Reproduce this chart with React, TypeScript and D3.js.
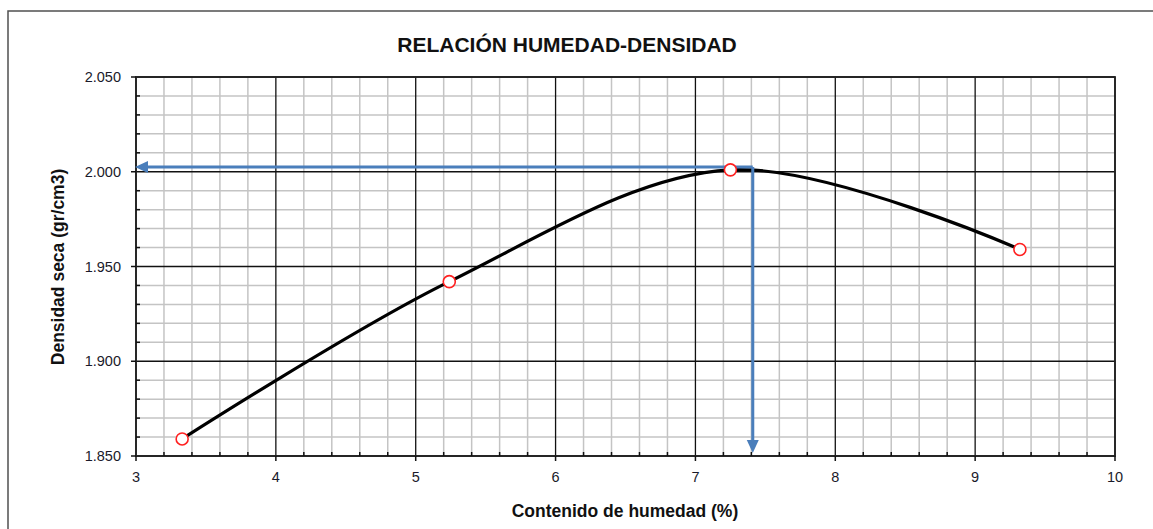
import React from "react";
import * as d3 from "d3";

const moisture = [3.33, 5.24, 7.25, 9.32];
const density = [1.859, 1.942, 2.001, 1.959];
const optimumMoisture = 7.41;
const maxDensity = 2.0025;
const xTicks = [3, 4, 5, 6, 7, 8, 9, 10];
const yTicks = [1.85, 1.9, 1.95, 2.0, 2.05];
const yTickLabels = ["1.850", "1.900", "1.950", "2.000", "2.050"];
const title = "RELACIÓN HUMEDAD-DENSIDAD";
const xLabel = "Contenido de humedad (%)";
const yLabel = "Densidad seca (gr/cm3)";

const W = 1153;
const H = 529;
const L = 136, R = 1115, T = 77, B = 456;
const FONT = "'Liberation Sans', Arial, sans-serif";

export default function App() {
  const x = d3.scaleLinear().domain([3, 10]).range([L, R]);
  const y = d3.scaleLinear().domain([1.85, 2.05]).range([B, T]);

  const xMinor = d3.range(3, 10.0001, 0.2).filter((v) => Math.abs(v - Math.round(v)) > 1e-6);
  const yMinor = d3.range(1.85, 2.05001, 0.01).filter(
    (v) => Math.abs(v * 20 - Math.round(v * 20)) > 1e-6
  );

  const pts = moisture.map((m, i) => [m, density[i]] as [number, number]);
  const line = d3
    .line<[number, number]>()
    .x((d) => x(d[0]))
    .y((d) => y(d[1]))
    .curve(d3.curveCardinal.tension(0));

  const blue = "#4a7ebb";
  const ox = x(optimumMoisture);
  const oy = y(maxDensity);

  return (
    <svg width={W} height={H} style={{ position: "absolute", left: 0, top: 0 }}>
      <rect x={0} y={0} width={W} height={H} fill="#fff" />
      <rect x={8} y={11} width={W + 10} height={H + 10} fill="none" stroke="#505050" strokeWidth={1.5} />
      <text x={567} y={52} textAnchor="middle" fontFamily={FONT} fontWeight="bold" fontSize={21} fill="#111">
        {title}
      </text>

      {/* minor grid */}
      <g stroke="#c4c4c4" strokeWidth={1.5}>
        {xMinor.map((v) => (
          <line key={"xm" + v} x1={x(v)} x2={x(v)} y1={T} y2={B} />
        ))}
        {yMinor.map((v) => (
          <line key={"ym" + v} x1={L} x2={R} y1={y(v)} y2={y(v)} />
        ))}
      </g>
      {/* major grid */}
      <g stroke="#111" strokeWidth={1.3}>
        {xTicks.map((v) => (
          <line key={"xM" + v} x1={x(v)} x2={x(v)} y1={T} y2={B} />
        ))}
        {yTicks.map((v) => (
          <line key={"yM" + v} x1={L} x2={R} y1={y(v)} y2={y(v)} />
        ))}
      </g>
      <rect x={L} y={T} width={R - L} height={B - T} fill="none" stroke="#222" strokeWidth={1.8} />

      {/* ticks */}
      <g stroke="#111" strokeWidth={1.5}>
        {xMinor.map((v) => (
          <line key={"xt" + v} x1={x(v)} x2={x(v)} y1={B} y2={B - 4} />
        ))}
        {xTicks.map((v) => (
          <line key={"xT" + v} x1={x(v)} x2={x(v)} y1={B} y2={B + 5} />
        ))}
        {yMinor.map((v) => (
          <line key={"yt" + v} x1={L} x2={L + 4} y1={y(v)} y2={y(v)} />
        ))}
        {yTicks.map((v) => (
          <line key={"yT" + v} x1={L} x2={L - 5} y1={y(v)} y2={y(v)} />
        ))}
      </g>

      <g fontFamily={FONT} fontSize={14.5} fill="#1a1a2a">
        {xTicks.map((v) => (
          <text key={"xl" + v} x={x(v)} y={B + 26} textAnchor="middle">
            {v}
          </text>
        ))}
        {yTicks.map((v, i) => (
          <text key={"yl" + v} x={L - 15} y={y(v) + 5} textAnchor="end">
            {yTickLabels[i]}
          </text>
        ))}
      </g>

      <text x={625} y={517} textAnchor="middle" fontFamily={FONT} fontWeight="bold" fontSize={17.5} fill="#111">
        {xLabel}
      </text>
      <text
        transform={`translate(64,267) rotate(-90)`}
        textAnchor="middle"
        fontFamily={FONT}
        fontWeight="bold"
        fontSize={17.5}
        fill="#111"
      >
        {yLabel}
      </text>

      {/* curve */}
      <path d={line(pts) || ""} fill="none" stroke="#000" strokeWidth={3.2} strokeLinecap="round" />

      {/* blue arrows */}
      <g stroke={blue} strokeWidth={3} fill="none">
        <line x1={ox} y1={oy} x2={L + 10} y2={oy} />
        <line x1={ox} y1={oy} x2={ox} y2={B - 14} />
      </g>
      <g fill={blue}>
        <path d={`M${L - 1},${oy} L${L + 12},${oy - 6} L${L + 12},${oy + 6} Z`} />
        <path d={`M${ox},${B - 3} L${ox - 6},${B - 16} L${ox + 6},${B - 16} Z`} />
      </g>

      {/* markers */}
      {pts.map((p, i) => (
        <circle key={i} cx={x(p[0])} cy={y(p[1])} r={6} fill="#fff" stroke="#ff2020" strokeWidth={1.6} />
      ))}
    </svg>
  );
}
